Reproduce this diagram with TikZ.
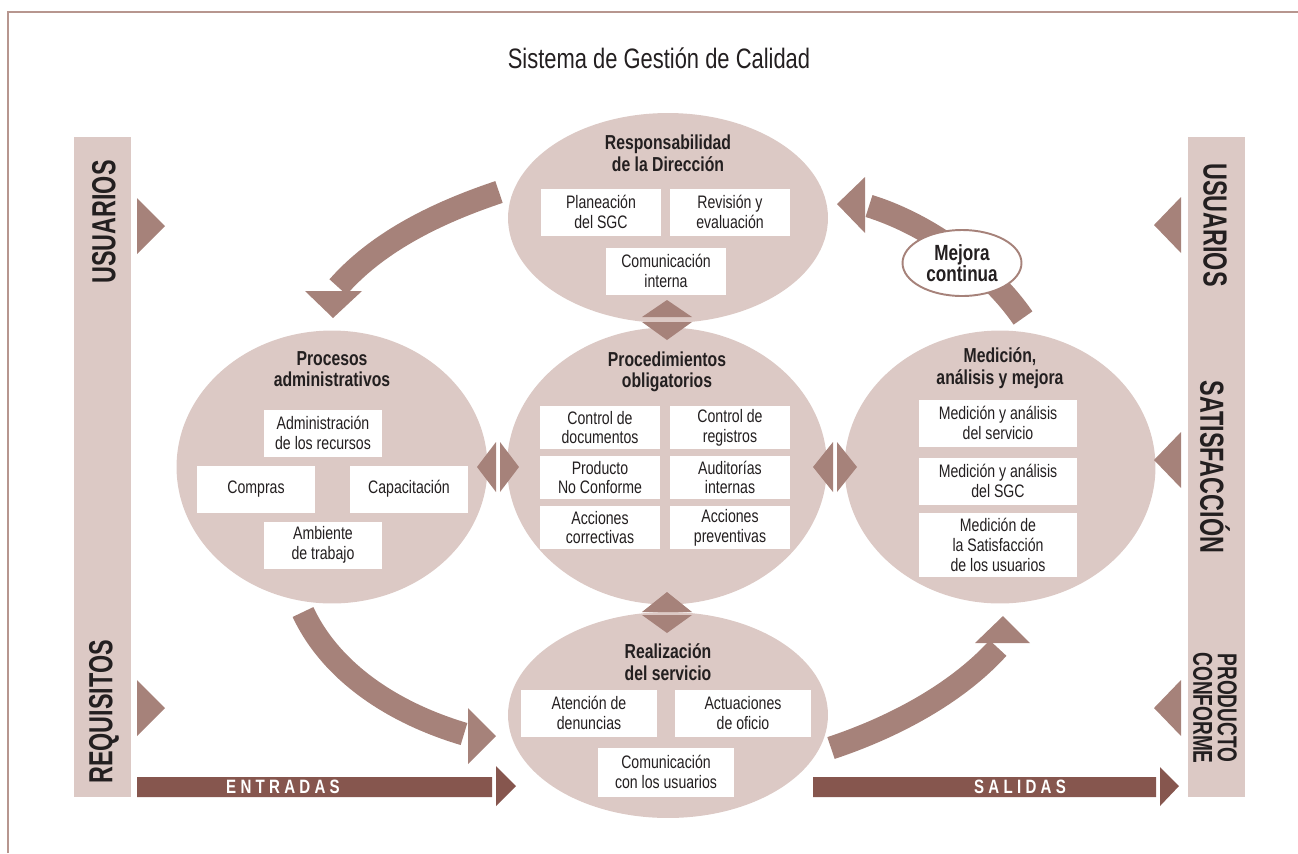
\documentclass[tikz,border=0pt]{standalone}
\usepackage{fontspec}
\setmainfont{Liberation Sans}[FakeStretch=0.78]
\newfontfamily\angosta{Liberation Sans}[FakeStretch=0.7]
\usetikzlibrary{shapes.geometric}
\definecolor{claro}{HTML}{DCC9C5}
\definecolor{flecha}{HTML}{A6827A}
\definecolor{oscuro}{HTML}{86564E}
\definecolor{marco}{HTML}{B7968F}
\definecolor{tinta}{HTML}{231F20}
\tikzset{
 elipse/.style 2 args={ellipse,fill=claro,inner sep=0pt,minimum width=#1,minimum height=#2},
 caja/.style 2 args={fill=white,inner sep=0pt,minimum width=#1,minimum height=#2,align=center,
  font=\fontsize{10.3}{11.2}\selectfont},
 titulo/.style={align=center,font=\bfseries\fontsize{11.5}{12.3}\selectfont},
 etiq/.style={font=\angosta\bfseries\fontsize{19}{19}\selectfont,inner sep=0pt},
 banda/.style={draw=flecha,line width=0.46cm},
 salida/.style={text=white,font=\bfseries\fontsize{11}{11}\selectfont\addfontfeature{LetterSpace=22}},
}
\begin{document}
\begin{tikzpicture}[x=0.02cm,y=-0.02cm,text=tinta]
 \useasboundingbox (0,0) rectangle (1298,853);
 \draw[marco,line width=0.9pt] (8,853)--(8,12)--(1298,12);
 \node (tit) at (659,58) {\fontsize{16}{16}\selectfont Sistema de Gestión de Calidad};
 % barras laterales
 \node[fill=claro,minimum width=1.14cm,minimum height=13.2cm,inner sep=0pt] (izq) at (102.5,467) {};
 \node[fill=claro,minimum width=1.14cm,minimum height=13.2cm,inner sep=0pt] (der) at (1216.5,467) {};
 \node[etiq,rotate=90] (usu1) at (104,222) {USUARIOS};
 \node[etiq,rotate=90] (req) at (104,712) {REQUISITOS};
 \node[etiq,rotate=-90] (usu2) at (1215,225) {USUARIOS};
 \node[etiq,rotate=-90] (sat) at (1215,467) {SATISFACCIÓN};
 \node[etiq,rotate=-90,align=center,font=\angosta\bfseries\fontsize{15.5}{14}\selectfont] (prod) at (1215,708) {PRODUCTO\\CONFORME};
 % elipses
 \node[elipse={6.4cm}{4.2cm}] (dir) at (668,218) {};
 \node[elipse={6.4cm}{5.54cm}] (proc) at (667,466) {};
 \node[elipse={6.22cm}{5.46cm}] (adm) at (332,467) {};
 \node[elipse={6.22cm}{5.46cm}] (med) at (1000,467) {};
 \node[elipse={6.4cm}{4.12cm}] (serv) at (668,715) {};
 % Responsabilidad de la Dirección
 \node[titulo] (tdir) at (668,153) {Responsabilidad\\de la Dirección};
 \node[caja={2.42cm}{0.94cm}] (plan) at (601,212) {Planeación\\del SGC};
 \node[caja={2.42cm}{0.94cm}] (rev) at (730,212) {Revisión y\\evaluación};
 \node[caja={2.42cm}{0.94cm}] (comi) at (666,271) {Comunicación\\interna};
 % Procedimientos obligatorios
 \node[titulo] (tproc) at (667,372) {Procedimientos\\obligatorios};
 \node[caja={2.42cm}{0.86cm}] (cdoc) at (600,427.5) {Control de\\documentos};
 \node[caja={2.42cm}{0.86cm}] (creg) at (730,427.5) {Control de\\registros};
 \node[caja={2.42cm}{0.86cm}] (pnc) at (600,477.5) {Producto\\No Conforme};
 \node[caja={2.42cm}{0.86cm}] (aud) at (730,477.5) {Auditorías\\internas};
 \node[caja={2.42cm}{0.86cm}] (acor) at (600,527.5) {Acciones\\correctivas};
 \node[caja={2.42cm}{0.86cm}] (aprev) at (730,527.5) {Acciones\\preventivas};
 % Procesos administrativos
 \node[titulo] (tadm) at (332,369) {Procesos\\administrativos};
 \node[caja={2.38cm}{0.94cm}] (arec) at (323,433) {Administración\\de los recursos};
 \node[caja={2.38cm}{0.94cm}] (comp) at (256,489) {Compras};
 \node[caja={2.38cm}{0.94cm}] (cap) at (409,489) {Capacitación};
 \node[caja={2.38cm}{0.94cm}] (amb) at (323,545) {Ambiente\\de trabajo};
 % Medición, análisis y mejora
 \node[titulo] (tmed) at (1000,368) {Medición,\\análisis y mejora};
 \node[caja={3.16cm}{0.94cm}] (mser) at (998,423) {Medición y análisis\\del servicio};
 \node[caja={3.16cm}{0.94cm}] (msgc) at (998,481) {Medición y análisis\\del SGC};
 \node[caja={3.16cm}{1.28cm}] (msat) at (998,545) {Medición de\\la Satisfacción\\de los usuarios};
 % Realización del servicio
 \node[titulo] (tserv) at (668,662) {Realización\\del servicio};
 \node[caja={2.74cm}{0.94cm}] (aten) at (589,713) {Atención de\\denuncias};
 \node[caja={2.74cm}{0.94cm}] (actu) at (743,713) {Actuaciones\\de oficio};
 \node[caja={2.74cm}{0.98cm}] (comu) at (666,772) {Comunicación\\con los usuarios};
 % flechas curvas
 \coordinate (a1) at (499,192); \coordinate (a2) at (338,287);
 \coordinate (b1) at (303,612); \coordinate (b2) at (464,734);
 \coordinate (c1) at (831,748); \coordinate (c2) at (998,648);
 \coordinate (d1) at (1023,318); \coordinate (d2) at (869,206);
 \draw[banda] (a1) .. controls (430,215) and (375,245) .. (a2);
 \draw[banda] (b1) .. controls (330,670) and (390,712) .. (b2);
 \draw[banda] (c1) .. controls (900,725) and (960,690) .. (c2);
 \draw[banda] (d1) .. controls (990,270) and (930,225) .. (d2);
 \fill[flecha] (305,291)--(333,318)--(362,291)--cycle;
 \fill[flecha] (468,708)--(496,736)--(468,764)--cycle;
 \fill[flecha] (975,643)--(1003,616)--(1030,643)--cycle;
 \fill[flecha] (865,177)--(837,204)--(865,233)--cycle;
 \node[ellipse,draw=flecha,line width=1.1pt,fill=white,minimum width=2.38cm,minimum height=1.32cm,
  inner sep=0pt,align=center,font=\bfseries\fontsize{12.5}{12.3}\selectfont] (mc) at (962,263) {Mejora\\continua};
 % puntas entre elipses
 \fill[flecha] (642,317)--(667,300)--(692,317)--cycle (642,322)--(667,340)--(692,322)--cycle;
 \fill[flecha] (642,612)--(667,592)--(692,612)--cycle (642,615)--(667,633)--(692,615)--cycle;
 \fill[flecha] (496,442)--(477,467)--(496,492)--cycle (500,442)--(519,467)--(500,492)--cycle;
 \fill[flecha] (833,442)--(813,467)--(833,492)--cycle (837,442)--(857,467)--(837,492)--cycle;
 % puntas de las barras
 \foreach \y in {226,708}
  \fill[flecha] (137,\y) ++(0,-28) -- ++(28,28) -- ++(-28,28) -- cycle;
 \foreach \y in {225,460,708}
  \fill[flecha] (1181,\y) ++(0,-28) -- ++(-27,28) -- ++(27,28) -- cycle;
 % entradas y salidas
 \fill[oscuro] (137,777) rectangle (492,797) (496,766)--(516,786)--(496,806)--cycle;
 \fill[oscuro] (813,777) rectangle (1156,797) (1160,767)--(1179,786)--(1160,806)--cycle;
 \node[salida] (ent) at (283,787) {ENTRADAS};
 \node[salida] (sal) at (1020,787) {SALIDAS};
\end{tikzpicture}
\end{document}
